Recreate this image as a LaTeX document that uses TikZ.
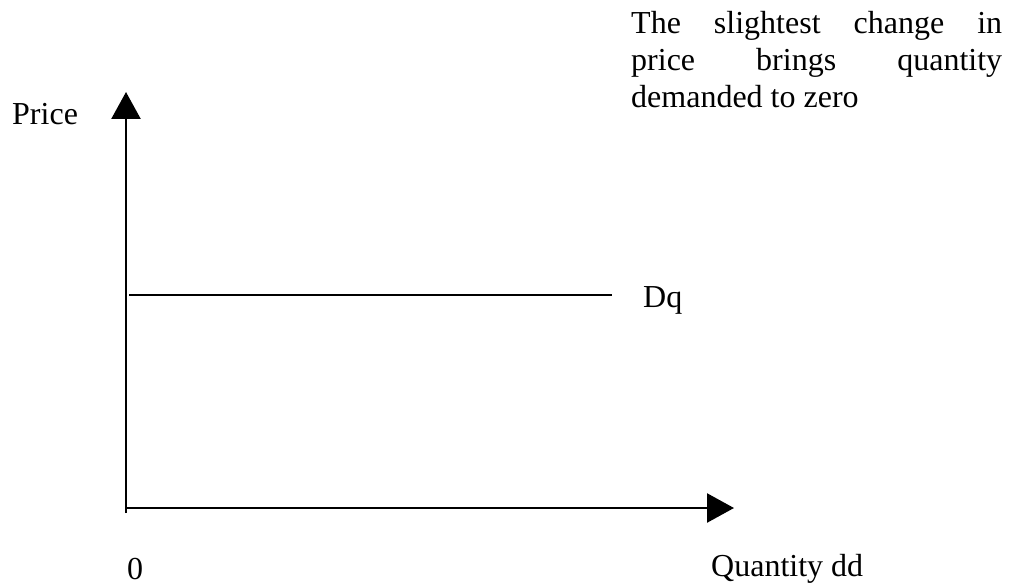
\documentclass[tikz,border=0pt]{standalone}
\usepackage{fontspec}
\setmainfont{Liberation Serif}
\usetikzlibrary{arrows.meta}
\begin{document}
\begin{tikzpicture}[x=1pt,y=-1pt,
  lbl/.style={font=\fontsize{32}{37}\selectfont, inner sep=0pt, anchor=base west},
  axisline/.style={line width=2.5pt, -{Triangle[length=27pt,width=29pt]}},
  demand/.style={line width=2pt}]
\useasboundingbox (0,0) rectangle (1010,583);
% axes
\coordinate (vbot) at (126,513);
\coordinate (vtip) at (126,92);
\coordinate (hstart) at (126,508);
\coordinate (htip) at (734,508);
\draw[axisline] (vbot) -- (vtip);
\draw[axisline] (hstart) -- (htip);
% demand curve
\coordinate (dq0) at (129,295);
\coordinate (dq1) at (612,295);
\draw[demand] (dq0) -- (dq1);
% labels
\node[lbl] (price) at (12,125) {Price};
\node[lbl] (dq) at (643,307) {Dq};
\node[lbl] (zero) at (127,579) {0};
\node[lbl] (qty) at (711,576) {Quantity dd};
\node[lbl, align=left] (note) at (631,108)
  {\makebox[371pt][s]{The slightest change in}\\
   \makebox[371pt][s]{price brings quantity}\\
   demanded to zero};
\end{tikzpicture}
\end{document}
